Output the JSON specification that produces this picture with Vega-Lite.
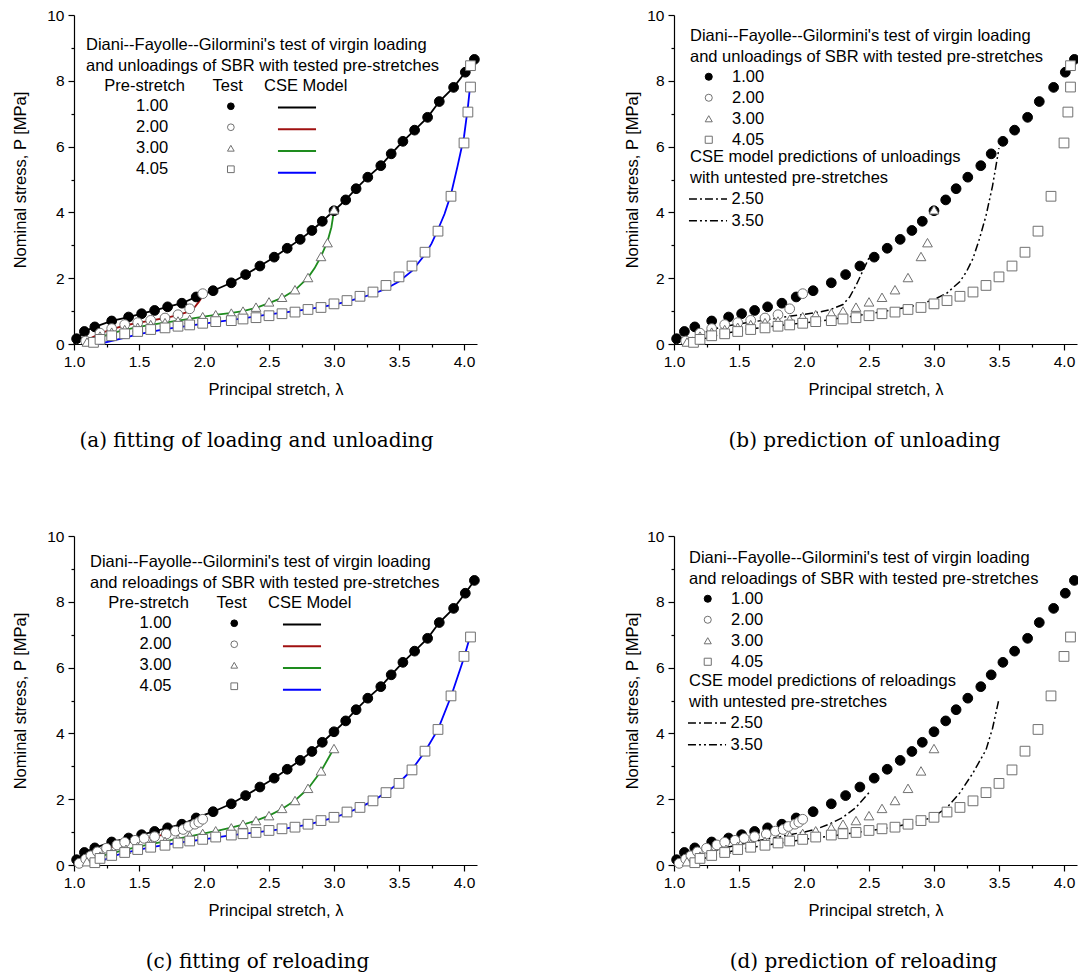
{
"$schema":"https://vega.github.io/schema/vega-lite/v6.json",
"background":"white",
"padding":{"left":12,"top":8,"right":0,"bottom":0},
"config":{
 "font":"Liberation Sans",
 "view":{"stroke":null},
 "axis":{"labelFont":"Liberation Sans","labelFontSize":15.5,"labelColor":"black","titleFont":"Liberation Sans","titleFontSize":16.5,"titleFontWeight":"normal","titleColor":"black","domainColor":"black","domainWidth":1.2,"tickColor":"black","tickWidth":1.2,"grid":false},
 "legend":{"titleFont":"Liberation Sans","labelFont":"Liberation Sans","titleFontSize":16.5,"labelFontSize":16.5,"titleFontWeight":"normal","titleColor":"black","labelColor":"black","titleLimit":1000,"labelLimit":300,"padding":0,"titleLineHeight":20.5,"titlePadding":3.5,"rowPadding":4,"symbolStrokeWidth":1},
 "title":{"font":"DejaVu Serif","fontSize":20,"fontWeight":"normal","color":"black","orient":"bottom","anchor":"middle","frame":"group"}
},
"datasets":{
 "test_unload":[
  {"pre":"1.00","lam":1.02,"P":0.16},{"pre":"1.00","lam":1.08,"P":0.38},{"pre":"1.00","lam":1.16,"P":0.52},{"pre":"1.00","lam":1.29,"P":0.70},{"pre":"1.00","lam":1.42,"P":0.82},{"pre":"1.00","lam":1.52,"P":0.92},{"pre":"1.00","lam":1.62,"P":1.02},{"pre":"1.00","lam":1.72,"P":1.13},{"pre":"1.00","lam":1.83,"P":1.24},{"pre":"1.00","lam":1.94,"P":1.43},{"pre":"1.00","lam":2.07,"P":1.62},{"pre":"1.00","lam":2.21,"P":1.86},{"pre":"1.00","lam":2.32,"P":2.11},{"pre":"1.00","lam":2.43,"P":2.37},{"pre":"1.00","lam":2.54,"P":2.64},{"pre":"1.00","lam":2.64,"P":2.91},{"pre":"1.00","lam":2.74,"P":3.18},{"pre":"1.00","lam":2.83,"P":3.45},{"pre":"1.00","lam":2.91,"P":3.73},{"pre":"1.00","lam":3.00,"P":4.05},{"pre":"1.00","lam":3.09,"P":4.38},{"pre":"1.00","lam":3.17,"P":4.72},{"pre":"1.00","lam":3.26,"P":5.07},{"pre":"1.00","lam":3.36,"P":5.42},{"pre":"1.00","lam":3.44,"P":5.78},{"pre":"1.00","lam":3.53,"P":6.16},{"pre":"1.00","lam":3.62,"P":6.50},{"pre":"1.00","lam":3.72,"P":6.89},{"pre":"1.00","lam":3.81,"P":7.37},{"pre":"1.00","lam":3.92,"P":7.80},{"pre":"1.00","lam":4.01,"P":8.26},{"pre":"1.00","lam":4.08,"P":8.65},
  {"pre":"2.00","lam":1.09,"P":0.09},{"pre":"2.00","lam":1.20,"P":0.33},{"pre":"2.00","lam":1.29,"P":0.47},{"pre":"2.00","lam":1.39,"P":0.59},{"pre":"2.00","lam":1.49,"P":0.65},{"pre":"2.00","lam":1.59,"P":0.72},{"pre":"2.00","lam":1.70,"P":0.79},{"pre":"2.00","lam":1.80,"P":0.89},{"pre":"2.00","lam":1.89,"P":1.07},{"pre":"2.00","lam":1.99,"P":1.53},
  {"pre":"3.00","lam":1.10,"P":0.06},{"pre":"3.00","lam":1.20,"P":0.24},{"pre":"3.00","lam":1.29,"P":0.36},{"pre":"3.00","lam":1.39,"P":0.44},{"pre":"3.00","lam":1.49,"P":0.51},{"pre":"3.00","lam":1.59,"P":0.59},{"pre":"3.00","lam":1.70,"P":0.65},{"pre":"3.00","lam":1.80,"P":0.70},{"pre":"3.00","lam":1.89,"P":0.75},{"pre":"3.00","lam":1.99,"P":0.83},{"pre":"3.00","lam":2.09,"P":0.89},{"pre":"3.00","lam":2.21,"P":0.94},{"pre":"3.00","lam":2.30,"P":1.00},{"pre":"3.00","lam":2.40,"P":1.12},{"pre":"3.00","lam":2.50,"P":1.28},{"pre":"3.00","lam":2.60,"P":1.42},{"pre":"3.00","lam":2.70,"P":1.65},{"pre":"3.00","lam":2.80,"P":2.02},{"pre":"3.00","lam":2.90,"P":2.66},{"pre":"3.00","lam":2.95,"P":3.08},{"pre":"3.00","lam":3.00,"P":4.08},
  {"pre":"4.05","lam":1.15,"P":0.05},{"pre":"4.05","lam":1.20,"P":0.14},{"pre":"4.05","lam":1.29,"P":0.25},{"pre":"4.05","lam":1.39,"P":0.31},{"pre":"4.05","lam":1.49,"P":0.38},{"pre":"4.05","lam":1.59,"P":0.44},{"pre":"4.05","lam":1.70,"P":0.49},{"pre":"4.05","lam":1.80,"P":0.54},{"pre":"4.05","lam":1.89,"P":0.58},{"pre":"4.05","lam":1.99,"P":0.63},{"pre":"4.05","lam":2.09,"P":0.68},{"pre":"4.05","lam":2.21,"P":0.71},{"pre":"4.05","lam":2.30,"P":0.76},{"pre":"4.05","lam":2.40,"P":0.80},{"pre":"4.05","lam":2.50,"P":0.86},{"pre":"4.05","lam":2.60,"P":0.92},{"pre":"4.05","lam":2.70,"P":0.97},{"pre":"4.05","lam":2.80,"P":1.05},{"pre":"4.05","lam":2.90,"P":1.11},{"pre":"4.05","lam":3.00,"P":1.22},{"pre":"4.05","lam":3.10,"P":1.32},{"pre":"4.05","lam":3.20,"P":1.45},{"pre":"4.05","lam":3.30,"P":1.58},{"pre":"4.05","lam":3.40,"P":1.78},{"pre":"4.05","lam":3.50,"P":2.04},{"pre":"4.05","lam":3.60,"P":2.37},{"pre":"4.05","lam":3.70,"P":2.79},{"pre":"4.05","lam":3.80,"P":3.43},{"pre":"4.05","lam":3.90,"P":4.49},{"pre":"4.05","lam":4.00,"P":6.11},{"pre":"4.05","lam":4.03,"P":7.05},{"pre":"4.05","lam":4.05,"P":7.81},{"pre":"4.05","lam":4.05,"P":8.46}
 ],
 "test_reload":[
  {"pre":"1.00","lam":1.02,"P":0.16},{"pre":"1.00","lam":1.08,"P":0.38},{"pre":"1.00","lam":1.16,"P":0.52},{"pre":"1.00","lam":1.29,"P":0.70},{"pre":"1.00","lam":1.42,"P":0.82},{"pre":"1.00","lam":1.52,"P":0.92},{"pre":"1.00","lam":1.62,"P":1.02},{"pre":"1.00","lam":1.72,"P":1.13},{"pre":"1.00","lam":1.83,"P":1.24},{"pre":"1.00","lam":1.94,"P":1.43},{"pre":"1.00","lam":2.07,"P":1.62},{"pre":"1.00","lam":2.21,"P":1.86},{"pre":"1.00","lam":2.32,"P":2.11},{"pre":"1.00","lam":2.43,"P":2.37},{"pre":"1.00","lam":2.54,"P":2.64},{"pre":"1.00","lam":2.64,"P":2.91},{"pre":"1.00","lam":2.74,"P":3.18},{"pre":"1.00","lam":2.83,"P":3.45},{"pre":"1.00","lam":2.91,"P":3.73},{"pre":"1.00","lam":3.00,"P":4.05},{"pre":"1.00","lam":3.09,"P":4.38},{"pre":"1.00","lam":3.17,"P":4.72},{"pre":"1.00","lam":3.26,"P":5.07},{"pre":"1.00","lam":3.36,"P":5.42},{"pre":"1.00","lam":3.44,"P":5.78},{"pre":"1.00","lam":3.53,"P":6.16},{"pre":"1.00","lam":3.62,"P":6.50},{"pre":"1.00","lam":3.72,"P":6.89},{"pre":"1.00","lam":3.81,"P":7.37},{"pre":"1.00","lam":3.92,"P":7.80},{"pre":"1.00","lam":4.01,"P":8.26},{"pre":"1.00","lam":4.08,"P":8.65},
  {"pre":"2.00","lam":1.04,"P":0.05},{"pre":"2.00","lam":1.09,"P":0.18},{"pre":"2.00","lam":1.13,"P":0.28},{"pre":"2.00","lam":1.18,"P":0.40},{"pre":"2.00","lam":1.25,"P":0.51},{"pre":"2.00","lam":1.33,"P":0.61},{"pre":"2.00","lam":1.39,"P":0.69},{"pre":"2.00","lam":1.47,"P":0.75},{"pre":"2.00","lam":1.54,"P":0.81},{"pre":"2.00","lam":1.62,"P":0.86},{"pre":"2.00","lam":1.71,"P":0.94},{"pre":"2.00","lam":1.78,"P":1.03},{"pre":"2.00","lam":1.84,"P":1.08},{"pre":"2.00","lam":1.88,"P":1.17},{"pre":"2.00","lam":1.93,"P":1.24},{"pre":"2.00","lam":1.96,"P":1.30},{"pre":"2.00","lam":1.99,"P":1.39},
  {"pre":"3.00","lam":1.10,"P":0.10},{"pre":"3.00","lam":1.20,"P":0.27},{"pre":"3.00","lam":1.29,"P":0.37},{"pre":"3.00","lam":1.40,"P":0.48},{"pre":"3.00","lam":1.49,"P":0.57},{"pre":"3.00","lam":1.59,"P":0.64},{"pre":"3.00","lam":1.70,"P":0.72},{"pre":"3.00","lam":1.80,"P":0.79},{"pre":"3.00","lam":1.89,"P":0.89},{"pre":"3.00","lam":1.99,"P":0.96},{"pre":"3.00","lam":2.09,"P":1.04},{"pre":"3.00","lam":2.21,"P":1.13},{"pre":"3.00","lam":2.30,"P":1.24},{"pre":"3.00","lam":2.40,"P":1.35},{"pre":"3.00","lam":2.50,"P":1.50},{"pre":"3.00","lam":2.60,"P":1.72},{"pre":"3.00","lam":2.70,"P":1.96},{"pre":"3.00","lam":2.80,"P":2.33},{"pre":"3.00","lam":2.90,"P":2.86},{"pre":"3.00","lam":3.00,"P":3.54},
  {"pre":"4.05","lam":1.16,"P":0.07},{"pre":"4.05","lam":1.20,"P":0.20},{"pre":"4.05","lam":1.29,"P":0.29},{"pre":"4.05","lam":1.39,"P":0.38},{"pre":"4.05","lam":1.49,"P":0.47},{"pre":"4.05","lam":1.59,"P":0.54},{"pre":"4.05","lam":1.70,"P":0.60},{"pre":"4.05","lam":1.80,"P":0.67},{"pre":"4.05","lam":1.89,"P":0.73},{"pre":"4.05","lam":1.99,"P":0.78},{"pre":"4.05","lam":2.09,"P":0.85},{"pre":"4.05","lam":2.21,"P":0.91},{"pre":"4.05","lam":2.30,"P":0.95},{"pre":"4.05","lam":2.40,"P":0.99},{"pre":"4.05","lam":2.50,"P":1.05},{"pre":"4.05","lam":2.60,"P":1.10},{"pre":"4.05","lam":2.70,"P":1.15},{"pre":"4.05","lam":2.80,"P":1.24},{"pre":"4.05","lam":2.90,"P":1.35},{"pre":"4.05","lam":3.00,"P":1.45},{"pre":"4.05","lam":3.10,"P":1.61},{"pre":"4.05","lam":3.20,"P":1.75},{"pre":"4.05","lam":3.30,"P":1.95},{"pre":"4.05","lam":3.40,"P":2.20},{"pre":"4.05","lam":3.50,"P":2.48},{"pre":"4.05","lam":3.60,"P":2.89},{"pre":"4.05","lam":3.70,"P":3.46},{"pre":"4.05","lam":3.80,"P":4.12},{"pre":"4.05","lam":3.90,"P":5.14},{"pre":"4.05","lam":4.00,"P":6.34},{"pre":"4.05","lam":4.05,"P":6.93}
 ],
 "model_unload":[
  {"model":"1.00","lam":1.00,"P":0},{"model":"1.00","lam":1.02,"P":0.16},{"model":"1.00","lam":1.08,"P":0.38},{"model":"1.00","lam":1.16,"P":0.52},{"model":"1.00","lam":1.29,"P":0.70},{"model":"1.00","lam":1.42,"P":0.82},{"model":"1.00","lam":1.52,"P":0.92},{"model":"1.00","lam":1.62,"P":1.02},{"model":"1.00","lam":1.72,"P":1.13},{"model":"1.00","lam":1.83,"P":1.24},{"model":"1.00","lam":1.94,"P":1.43},{"model":"1.00","lam":2.07,"P":1.62},{"model":"1.00","lam":2.21,"P":1.86},{"model":"1.00","lam":2.32,"P":2.11},{"model":"1.00","lam":2.43,"P":2.37},{"model":"1.00","lam":2.54,"P":2.64},{"model":"1.00","lam":2.64,"P":2.91},{"model":"1.00","lam":2.74,"P":3.18},{"model":"1.00","lam":2.83,"P":3.45},{"model":"1.00","lam":2.91,"P":3.73},{"model":"1.00","lam":3.00,"P":4.05},{"model":"1.00","lam":3.09,"P":4.38},{"model":"1.00","lam":3.17,"P":4.72},{"model":"1.00","lam":3.26,"P":5.07},{"model":"1.00","lam":3.36,"P":5.42},{"model":"1.00","lam":3.44,"P":5.78},{"model":"1.00","lam":3.53,"P":6.16},{"model":"1.00","lam":3.62,"P":6.50},{"model":"1.00","lam":3.72,"P":6.89},{"model":"1.00","lam":3.81,"P":7.37},{"model":"1.00","lam":3.92,"P":7.80},{"model":"1.00","lam":4.01,"P":8.26},{"model":"1.00","lam":4.08,"P":8.65},
  {"model":"2.00","lam":1.07,"P":0},{"model":"2.00","lam":1.10,"P":0.12},{"model":"2.00","lam":1.20,"P":0.32},{"model":"2.00","lam":1.30,"P":0.46},{"model":"2.00","lam":1.40,"P":0.57},{"model":"2.00","lam":1.50,"P":0.65},{"model":"2.00","lam":1.60,"P":0.72},{"model":"2.00","lam":1.70,"P":0.79},{"model":"2.00","lam":1.80,"P":0.88},{"model":"2.00","lam":1.87,"P":0.97},{"model":"2.00","lam":1.92,"P":1.08},{"model":"2.00","lam":1.96,"P":1.28},{"model":"2.00","lam":2.00,"P":1.52},
  {"model":"3.00","lam":1.12,"P":0},{"model":"3.00","lam":1.20,"P":0.20},{"model":"3.00","lam":1.30,"P":0.34},{"model":"3.00","lam":1.40,"P":0.44},{"model":"3.00","lam":1.50,"P":0.52},{"model":"3.00","lam":1.60,"P":0.59},{"model":"3.00","lam":1.70,"P":0.65},{"model":"3.00","lam":1.80,"P":0.71},{"model":"3.00","lam":1.90,"P":0.77},{"model":"3.00","lam":2.00,"P":0.83},{"model":"3.00","lam":2.10,"P":0.89},{"model":"3.00","lam":2.20,"P":0.94},{"model":"3.00","lam":2.30,"P":1.00},{"model":"3.00","lam":2.40,"P":1.10},{"model":"3.00","lam":2.50,"P":1.24},{"model":"3.00","lam":2.60,"P":1.40},{"model":"3.00","lam":2.70,"P":1.64},{"model":"3.00","lam":2.80,"P":2.02},{"model":"3.00","lam":2.85,"P":2.30},{"model":"3.00","lam":2.90,"P":2.66},{"model":"3.00","lam":2.95,"P":3.12},{"model":"3.00","lam":2.98,"P":3.55},{"model":"3.00","lam":3.00,"P":4.05},
  {"model":"4.05","lam":1.19,"P":0},{"model":"4.05","lam":1.30,"P":0.10},{"model":"4.05","lam":1.50,"P":0.30},{"model":"4.05","lam":1.70,"P":0.45},{"model":"4.05","lam":2.00,"P":0.62},{"model":"4.05","lam":2.30,"P":0.78},{"model":"4.05","lam":2.50,"P":0.90},{"model":"4.05","lam":2.70,"P":1.00},{"model":"4.05","lam":2.90,"P":1.12},{"model":"4.05","lam":3.00,"P":1.20},{"model":"4.05","lam":3.10,"P":1.29},{"model":"4.05","lam":3.20,"P":1.40},{"model":"4.05","lam":3.30,"P":1.52},{"model":"4.05","lam":3.40,"P":1.68},{"model":"4.05","lam":3.50,"P":1.90},{"model":"4.05","lam":3.60,"P":2.22},{"model":"4.05","lam":3.70,"P":2.72},{"model":"4.05","lam":3.75,"P":3.05},{"model":"4.05","lam":3.80,"P":3.48},{"model":"4.05","lam":3.85,"P":3.95},{"model":"4.05","lam":3.90,"P":4.55},{"model":"4.05","lam":3.95,"P":5.40},{"model":"4.05","lam":4.00,"P":6.30},{"model":"4.05","lam":4.03,"P":7.20},{"model":"4.05","lam":4.05,"P":7.95}
 ],
 "model_reload":[
  {"model":"1.00","lam":1.00,"P":0},{"model":"1.00","lam":1.02,"P":0.16},{"model":"1.00","lam":1.08,"P":0.38},{"model":"1.00","lam":1.16,"P":0.52},{"model":"1.00","lam":1.29,"P":0.70},{"model":"1.00","lam":1.42,"P":0.82},{"model":"1.00","lam":1.52,"P":0.92},{"model":"1.00","lam":1.62,"P":1.02},{"model":"1.00","lam":1.72,"P":1.13},{"model":"1.00","lam":1.83,"P":1.24},{"model":"1.00","lam":1.94,"P":1.43},{"model":"1.00","lam":2.07,"P":1.62},{"model":"1.00","lam":2.21,"P":1.86},{"model":"1.00","lam":2.32,"P":2.11},{"model":"1.00","lam":2.43,"P":2.37},{"model":"1.00","lam":2.54,"P":2.64},{"model":"1.00","lam":2.64,"P":2.91},{"model":"1.00","lam":2.74,"P":3.18},{"model":"1.00","lam":2.83,"P":3.45},{"model":"1.00","lam":2.91,"P":3.73},{"model":"1.00","lam":3.00,"P":4.05},{"model":"1.00","lam":3.09,"P":4.38},{"model":"1.00","lam":3.17,"P":4.72},{"model":"1.00","lam":3.26,"P":5.07},{"model":"1.00","lam":3.36,"P":5.42},{"model":"1.00","lam":3.44,"P":5.78},{"model":"1.00","lam":3.53,"P":6.16},{"model":"1.00","lam":3.62,"P":6.50},{"model":"1.00","lam":3.72,"P":6.89},{"model":"1.00","lam":3.81,"P":7.37},{"model":"1.00","lam":3.92,"P":7.80},{"model":"1.00","lam":4.01,"P":8.26},{"model":"1.00","lam":4.08,"P":8.65},
  {"model":"2.00","lam":1.05,"P":0},{"model":"2.00","lam":1.10,"P":0.20},{"model":"2.00","lam":1.20,"P":0.42},{"model":"2.00","lam":1.30,"P":0.56},{"model":"2.00","lam":1.40,"P":0.68},{"model":"2.00","lam":1.50,"P":0.77},{"model":"2.00","lam":1.60,"P":0.85},{"model":"2.00","lam":1.70,"P":0.93},{"model":"2.00","lam":1.80,"P":1.03},{"model":"2.00","lam":1.90,"P":1.18},{"model":"2.00","lam":1.95,"P":1.28},{"model":"2.00","lam":2.00,"P":1.40},
  {"model":"3.00","lam":1.10,"P":0},{"model":"3.00","lam":1.15,"P":0.15},{"model":"3.00","lam":1.20,"P":0.26},{"model":"3.00","lam":1.30,"P":0.37},{"model":"3.00","lam":1.40,"P":0.47},{"model":"3.00","lam":1.50,"P":0.56},{"model":"3.00","lam":1.60,"P":0.64},{"model":"3.00","lam":1.70,"P":0.72},{"model":"3.00","lam":1.80,"P":0.80},{"model":"3.00","lam":1.90,"P":0.88},{"model":"3.00","lam":2.00,"P":0.96},{"model":"3.00","lam":2.10,"P":1.04},{"model":"3.00","lam":2.20,"P":1.13},{"model":"3.00","lam":2.30,"P":1.23},{"model":"3.00","lam":2.40,"P":1.35},{"model":"3.00","lam":2.50,"P":1.50},{"model":"3.00","lam":2.60,"P":1.70},{"model":"3.00","lam":2.70,"P":1.96},{"model":"3.00","lam":2.80,"P":2.32},{"model":"3.00","lam":2.90,"P":2.85},{"model":"3.00","lam":3.00,"P":3.55},
  {"model":"4.05","lam":1.18,"P":0},{"model":"4.05","lam":1.20,"P":0.10},{"model":"4.05","lam":1.30,"P":0.27},{"model":"4.05","lam":1.40,"P":0.38},{"model":"4.05","lam":1.50,"P":0.47},{"model":"4.05","lam":1.60,"P":0.54},{"model":"4.05","lam":1.70,"P":0.61},{"model":"4.05","lam":1.80,"P":0.67},{"model":"4.05","lam":1.90,"P":0.73},{"model":"4.05","lam":2.00,"P":0.78},{"model":"4.05","lam":2.20,"P":0.90},{"model":"4.05","lam":2.40,"P":0.99},{"model":"4.05","lam":2.60,"P":1.09},{"model":"4.05","lam":2.80,"P":1.23},{"model":"4.05","lam":3.00,"P":1.44},{"model":"4.05","lam":3.10,"P":1.58},{"model":"4.05","lam":3.20,"P":1.75},{"model":"4.05","lam":3.30,"P":1.95},{"model":"4.05","lam":3.40,"P":2.20},{"model":"4.05","lam":3.50,"P":2.50},{"model":"4.05","lam":3.60,"P":2.90},{"model":"4.05","lam":3.70,"P":3.45},{"model":"4.05","lam":3.80,"P":4.12},{"model":"4.05","lam":3.90,"P":5.12},{"model":"4.05","lam":4.00,"P":6.30},{"model":"4.05","lam":4.05,"P":7.00}
 ],
 "pred_unload":[
  {"pred":"2.50","lam":1.06,"P":0},{"pred":"2.50","lam":1.10,"P":0.12},{"pred":"2.50","lam":1.20,"P":0.30},{"pred":"2.50","lam":1.30,"P":0.45},{"pred":"2.50","lam":1.40,"P":0.54},{"pred":"2.50","lam":1.50,"P":0.61},{"pred":"2.50","lam":1.60,"P":0.67},{"pred":"2.50","lam":1.70,"P":0.73},{"pred":"2.50","lam":1.80,"P":0.79},{"pred":"2.50","lam":1.90,"P":0.85},{"pred":"2.50","lam":2.00,"P":0.90},{"pred":"2.50","lam":2.10,"P":0.96},{"pred":"2.50","lam":2.20,"P":1.04},{"pred":"2.50","lam":2.30,"P":1.20},{"pred":"2.50","lam":2.35,"P":1.42},{"pred":"2.50","lam":2.40,"P":1.78},{"pred":"2.50","lam":2.45,"P":2.20},{"pred":"2.50","lam":2.50,"P":2.62},
  {"pred":"3.50","lam":1.12,"P":0},{"pred":"3.50","lam":1.20,"P":0.12},{"pred":"3.50","lam":1.30,"P":0.24},{"pred":"3.50","lam":1.40,"P":0.33},{"pred":"3.50","lam":1.60,"P":0.46},{"pred":"3.50","lam":1.80,"P":0.56},{"pred":"3.50","lam":2.00,"P":0.64},{"pred":"3.50","lam":2.20,"P":0.74},{"pred":"3.50","lam":2.40,"P":0.86},{"pred":"3.50","lam":2.60,"P":0.98},{"pred":"3.50","lam":2.80,"P":1.12},{"pred":"3.50","lam":2.90,"P":1.22},{"pred":"3.50","lam":3.00,"P":1.35},{"pred":"3.50","lam":3.10,"P":1.55},{"pred":"3.50","lam":3.20,"P":1.90},{"pred":"3.50","lam":3.25,"P":2.20},{"pred":"3.50","lam":3.30,"P":2.60},{"pred":"3.50","lam":3.35,"P":3.20},{"pred":"3.50","lam":3.40,"P":3.90},{"pred":"3.50","lam":3.45,"P":4.80},{"pred":"3.50","lam":3.50,"P":5.95}
 ],
 "pred_reload":[
  {"pred":"2.50","lam":1.06,"P":0},{"pred":"2.50","lam":1.10,"P":0.10},{"pred":"2.50","lam":1.20,"P":0.28},{"pred":"2.50","lam":1.30,"P":0.42},{"pred":"2.50","lam":1.40,"P":0.53},{"pred":"2.50","lam":1.50,"P":0.62},{"pred":"2.50","lam":1.60,"P":0.70},{"pred":"2.50","lam":1.70,"P":0.78},{"pred":"2.50","lam":1.80,"P":0.85},{"pred":"2.50","lam":1.90,"P":0.93},{"pred":"2.50","lam":2.00,"P":1.00},{"pred":"2.50","lam":2.10,"P":1.10},{"pred":"2.50","lam":2.20,"P":1.25},{"pred":"2.50","lam":2.30,"P":1.45},{"pred":"2.50","lam":2.40,"P":1.75},{"pred":"2.50","lam":2.50,"P":2.20},
  {"pred":"3.50","lam":1.12,"P":0},{"pred":"3.50","lam":1.20,"P":0.15},{"pred":"3.50","lam":1.30,"P":0.30},{"pred":"3.50","lam":1.50,"P":0.47},{"pred":"3.50","lam":1.70,"P":0.60},{"pred":"3.50","lam":1.90,"P":0.72},{"pred":"3.50","lam":2.10,"P":0.83},{"pred":"3.50","lam":2.30,"P":0.93},{"pred":"3.50","lam":2.50,"P":1.04},{"pred":"3.50","lam":2.70,"P":1.16},{"pred":"3.50","lam":2.90,"P":1.33},{"pred":"3.50","lam":3.00,"P":1.47},{"pred":"3.50","lam":3.10,"P":1.75},{"pred":"3.50","lam":3.20,"P":2.20},{"pred":"3.50","lam":3.30,"P":2.80},{"pred":"3.50","lam":3.40,"P":3.50},{"pred":"3.50","lam":3.45,"P":4.15},{"pred":"3.50","lam":3.50,"P":5.05}
 ]
},
"columns":2,
"spacing":{"row":192,"column":197},
"bounds":"flush",
"resolve":{
 "scale":{"color":"independent","shape":"independent","fill":"independent","stroke":"independent","strokeDash":"independent","x":"independent","y":"independent"},
 "legend":{"color":"independent","shape":"independent","fill":"independent","stroke":"independent","strokeDash":"independent"}
},
"concat":[
 {
  "width":403,"height":329,
  "title":{"text":"(a) fitting of loading and unloading","dx":-19,"offset":33},
  "layer":[
   {"data":{"name":"model_unload"},"mark":{"type":"line","strokeWidth":1.8},
    "encoding":{
     "x":{"field":"lam","type":"quantitative","scale":{"domain":[1,4.1],"nice":false,"zero":false},"axis":{"orient":"bottom","values":[1,1.5,2,2.5,3,3.5,4],"format":".1f","title":"Principal stretch, λ","tickSize":6,"labelPadding":4,"titlePadding":12,"labelFlush":false,"labelOverlap":false}},
     "y":{"field":"P","type":"quantitative","scale":{"domain":[0,10],"nice":false,"zero":false},"axis":{"orient":"left","values":[0,2,4,6,8,10],"format":"d","title":"Nominal stress, P [MPa]","tickSize":6,"labelPadding":4,"titlePadding":18}},
     "color":{"field":"model","type":"nominal","scale":{"range":["#000000","#a01010","#1e8c1e","#0000ff"]},"legend":{"orient":"none","legendX":190,"legendY":63,"title":"CSE Model","symbolType":"M-2.24,0H2.24","symbolSize":289,"symbolOffset":23.5,"symbolStrokeWidth":1.8,"rowPadding":3.75,"labelOpacity":0}}
    }},
   {"data":{"name":"test_unload"},"mark":{"type":"point","size":95,"strokeWidth":1,"opacity":1,"fillOpacity":1},
    "encoding":{
     "x":{"field":"lam","type":"quantitative","axis":{"orient":"bottom","values":[1.25,1.75,2.25,2.75,3.25,3.75],"labels":false,"domain":false,"title":null,"tickSize":3}},
     "y":{"field":"P","type":"quantitative","axis":{"orient":"left","values":[1,3,5,7,9],"labels":false,"domain":false,"title":null,"tickSize":3}},
     "shape":{"field":"pre","type":"nominal","scale":{"range":["circle","circle","triangle-up","square"]},"legend":{"orient":"none","legendX":12,"legendY":22,"title":["Diani--Fayolle--Gilormini's test of virgin loading","and unloadings of SBR with tested pre-stretches","\u200b\u00a0\u00a0\u00a0\u00a0Pre-stretch\u00a0\u00a0\u00a0\u00a0\u00a0\u00a0Test"],"labelAlign":"right","labelOffset":-71,"symbolOffset":136.6,"symbolSize":45}},
     "fill":{"field":"pre","type":"nominal","scale":{"range":["black","white","white","white"]}},
     "stroke":{"field":"pre","type":"nominal","scale":{"range":["black","#707070","#707070","#707070"]}}
    }}
  ],
  "resolve":{"axis":{"x":"independent","y":"independent"}}
 },
 {
  "width":403,"height":329,
  "title":{"text":"(b) prediction of unloading","dx":-11,"offset":33},
  "layer":[
   {"data":{"name":"pred_unload"},"mark":{"type":"line","strokeWidth":1.5,"color":"black"},
    "encoding":{
     "x":{"field":"lam","type":"quantitative","scale":{"domain":[1,4.1],"nice":false,"zero":false},"axis":{"orient":"bottom","values":[1,1.5,2,2.5,3,3.5,4],"format":".1f","title":"Principal stretch, λ","tickSize":6,"labelPadding":4,"titlePadding":12,"labelFlush":false,"labelOverlap":false}},
     "y":{"field":"P","type":"quantitative","scale":{"domain":[0,10],"nice":false,"zero":false},"axis":{"orient":"left","values":[0,2,4,6,8,10],"format":"d","title":"Nominal stress, P [MPa]","tickSize":6,"labelPadding":4,"titlePadding":6}},
     "strokeDash":{"field":"pred","type":"nominal","scale":{"range":[[8,3,2,3],[8,3,2,3,2,3]]},"legend":{"orient":"none","legendX":16,"legendY":134,"title":["CSE model predictions of unloadings","with untested pre-stretches"],"symbolType":"M-2.24,0H2.24","symbolSize":289,"symbolOffset":8.5,"symbolStrokeWidth":1.5,"symbolStrokeColor":"black","rowPadding":3.75,"labelOffset":14}}
    }},
   {"data":{"name":"test_unload"},"mark":{"type":"point","size":95,"strokeWidth":1,"opacity":1,"fillOpacity":1},
    "encoding":{
     "x":{"field":"lam","type":"quantitative","axis":{"orient":"bottom","values":[1.25,1.75,2.25,2.75,3.25,3.75],"labels":false,"domain":false,"title":null,"tickSize":3}},
     "y":{"field":"P","type":"quantitative","axis":{"orient":"left","values":[1,3,5,7,9],"labels":false,"domain":false,"title":null,"tickSize":3}},
     "shape":{"field":"pre","type":"nominal","scale":{"range":["circle","circle","triangle-up","square"]},"legend":{"orient":"none","legendX":16,"legendY":13,"title":["Diani--Fayolle--Gilormini's test of virgin loading","and unloadings of SBR with tested pre-stretches"],"labelAlign":"left","labelOffset":15,"symbolOffset":10.5,"symbolSize":50}},
     "fill":{"field":"pre","type":"nominal","scale":{"range":["black","white","white","white"]}},
     "stroke":{"field":"pre","type":"nominal","scale":{"range":["black","#707070","#707070","#707070"]}}
    }}
  ],
  "resolve":{"axis":{"x":"independent","y":"independent"}}
 },
 {
  "width":403,"height":329,
  "title":{"text":"(c) fitting of reloading","dx":-18,"offset":33},
  "layer":[
   {"data":{"name":"model_reload"},"mark":{"type":"line","strokeWidth":1.8},
    "encoding":{
     "x":{"field":"lam","type":"quantitative","scale":{"domain":[1,4.1],"nice":false,"zero":false},"axis":{"orient":"bottom","values":[1,1.5,2,2.5,3,3.5,4],"format":".1f","title":"Principal stretch, λ","tickSize":6,"labelPadding":4,"titlePadding":12,"labelFlush":false,"labelOverlap":false}},
     "y":{"field":"P","type":"quantitative","scale":{"domain":[0,10],"nice":false,"zero":false},"axis":{"orient":"left","values":[0,2,4,6,8,10],"format":"d","title":"Nominal stress, P [MPa]","tickSize":6,"labelPadding":4,"titlePadding":18}},
     "color":{"field":"model","type":"nominal","scale":{"range":["#000000","#a01010","#1e8c1e","#0000ff"]},"legend":{"orient":"none","legendX":194,"legendY":59,"title":"CSE Model","symbolType":"M-2.24,0H2.24","symbolSize":289,"symbolOffset":24.5,"symbolStrokeWidth":1.8,"rowPadding":3.75,"labelOpacity":0}}
    }},
   {"data":{"name":"test_reload"},"mark":{"type":"point","size":95,"strokeWidth":1,"opacity":1,"fillOpacity":1},
    "encoding":{
     "x":{"field":"lam","type":"quantitative","axis":{"orient":"bottom","values":[1.25,1.75,2.25,2.75,3.25,3.75],"labels":false,"domain":false,"title":null,"tickSize":3}},
     "y":{"field":"P","type":"quantitative","axis":{"orient":"left","values":[1,3,5,7,9],"labels":false,"domain":false,"title":null,"tickSize":3}},
     "shape":{"field":"pre","type":"nominal","scale":{"range":["circle","circle","triangle-up","square"]},"legend":{"orient":"none","legendX":16,"legendY":18,"title":["Diani--Fayolle--Gilormini's test of virgin loading","and reloadings of SBR with tested pre-stretches","\u200b\u00a0\u00a0\u00a0\u00a0Pre-stretch\u00a0\u00a0\u00a0\u00a0\u00a0\u00a0Test"],"labelAlign":"right","labelOffset":-71,"symbolOffset":136,"symbolSize":45}},
     "fill":{"field":"pre","type":"nominal","scale":{"range":["black","white","white","white"]}},
     "stroke":{"field":"pre","type":"nominal","scale":{"range":["black","#707070","#707070","#707070"]}}
    }}
  ],
  "resolve":{"axis":{"x":"independent","y":"independent"}}
 },
 {
  "width":403,"height":329,
  "title":{"text":"(d) prediction of reloading","dx":-12,"offset":33},
  "layer":[
   {"data":{"name":"pred_reload"},"mark":{"type":"line","strokeWidth":1.5,"color":"black"},
    "encoding":{
     "x":{"field":"lam","type":"quantitative","scale":{"domain":[1,4.1],"nice":false,"zero":false},"axis":{"orient":"bottom","values":[1,1.5,2,2.5,3,3.5,4],"format":".1f","title":"Principal stretch, λ","tickSize":6,"labelPadding":4,"titlePadding":12,"labelFlush":false,"labelOverlap":false}},
     "y":{"field":"P","type":"quantitative","scale":{"domain":[0,10],"nice":false,"zero":false},"axis":{"orient":"left","values":[0,2,4,6,8,10],"format":"d","title":"Nominal stress, P [MPa]","tickSize":6,"labelPadding":4,"titlePadding":6}},
     "strokeDash":{"field":"pred","type":"nominal","scale":{"range":[[8,3,2,3],[8,3,2,3,2,3]]},"legend":{"orient":"none","legendX":15,"legendY":137,"title":["CSE model predictions of reloadings","with untested pre-stretches"],"symbolType":"M-2.24,0H2.24","symbolSize":289,"symbolOffset":8.5,"symbolStrokeWidth":1.5,"symbolStrokeColor":"black","rowPadding":3.75,"labelOffset":14}}
    }},
   {"data":{"name":"test_reload"},"mark":{"type":"point","size":95,"strokeWidth":1,"opacity":1,"fillOpacity":1},
    "encoding":{
     "x":{"field":"lam","type":"quantitative","axis":{"orient":"bottom","values":[1.25,1.75,2.25,2.75,3.25,3.75],"labels":false,"domain":false,"title":null,"tickSize":3}},
     "y":{"field":"P","type":"quantitative","axis":{"orient":"left","values":[1,3,5,7,9],"labels":false,"domain":false,"title":null,"tickSize":3}},
     "shape":{"field":"pre","type":"nominal","scale":{"range":["circle","circle","triangle-up","square"]},"legend":{"orient":"none","legendX":15,"legendY":14,"title":["Diani--Fayolle--Gilormini's test of virgin loading","and reloadings of SBR with tested pre-stretches"],"labelAlign":"left","labelOffset":15,"symbolOffset":10.5,"symbolSize":50}},
     "fill":{"field":"pre","type":"nominal","scale":{"range":["black","white","white","white"]}},
     "stroke":{"field":"pre","type":"nominal","scale":{"range":["black","#707070","#707070","#707070"]}}
    }}
  ],
  "resolve":{"axis":{"x":"independent","y":"independent"}}
 }
]
}
